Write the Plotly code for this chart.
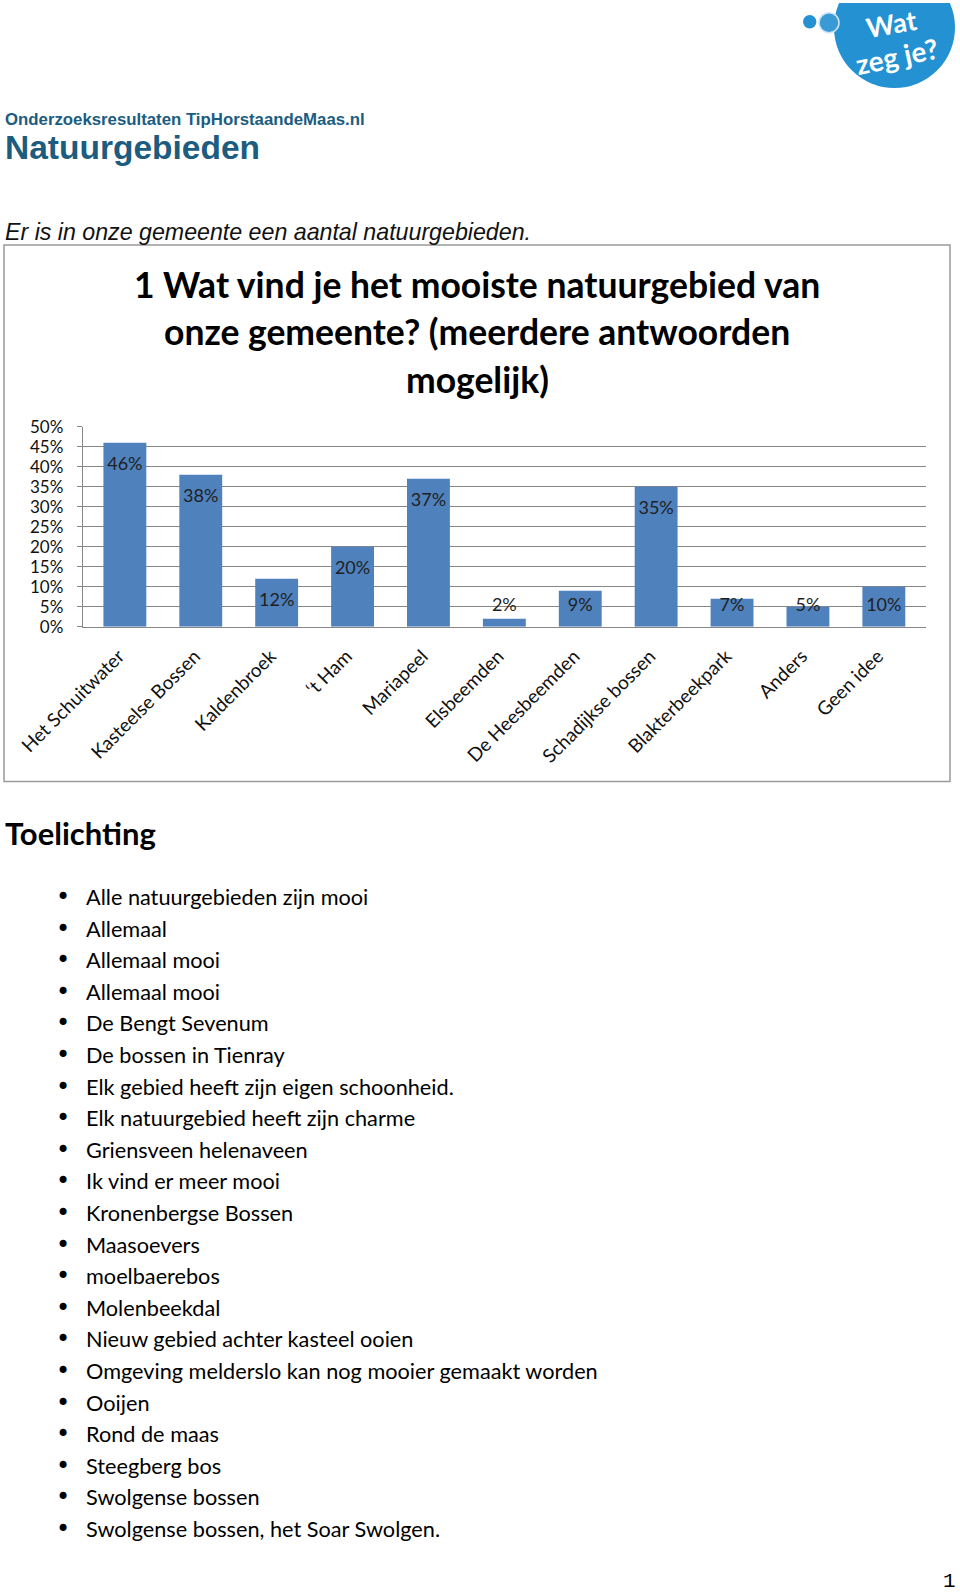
import plotly.graph_objects as go

# data
categories = ["Het Schuitwater", "Kasteelse Bossen", "Kaldenbroek", "‘t Ham", "Mariapeel",
              "Elsbeemden", "De Heesbeemden", "Schadijkse bossen", "Blakterbeekpark", "Anders", "Geen idee"]
values = [46, 38, 12, 20, 37, 2, 9, 35, 7, 5, 10]
y_ticks = [0, 5, 10, 15, 20, 25, 30, 35, 40, 45, 50]
y_ticktext = [f"{t}%" for t in y_ticks]
title_lines = ["1 Wat vind je het mooiste natuurgebied van",
               "onze gemeente? (meerdere antwoorden",
               "mogelijk)"]
comments = ["Alle natuurgebieden zijn mooi", "Allemaal", "Allemaal mooi", "Allemaal mooi",
            "De Bengt Sevenum", "De bossen in Tienray", "Elk gebied heeft zijn eigen schoonheid.",
            "Elk natuurgebied heeft zijn charme", "Griensveen helenaveen", "Ik vind er meer mooi",
            "Kronenbergse Bossen", "Maasoevers", "moelbaerebos", "Molenbeekdal",
            "Nieuw gebied achter kasteel ooien", "Omgeving melderslo kan nog mooier gemaakt worden",
            "Ooijen", "Rond de maas", "Steegberg bos", "Swolgense bossen",
            "Swolgense bossen, het Soar Swolgen."]

W, H = 960, 1596
def px(x):
    return x / W
def py(y):
    return 1 - y / H

CHART_FONT = "Lato"
HEAD = "#1b5c80"
BLUE = "#2391d2"

fig = go.Figure()
fig.add_trace(go.Bar(x=categories, y=values, marker_color="#4f81bd", width=0.565,
                     hoverinfo="skip"))
# data labels sit just under the bar top, never lower than the 5% line
label_y = [max(v - 5.8, 5.0) for v in values]
fig.add_trace(go.Scatter(x=categories, y=label_y, mode="text", text=[f"{v}%" for v in values],
                         textfont=dict(family=CHART_FONT, size=18, color="#1f1f1f"),
                         hoverinfo="skip"))

fig.update_layout(
    template="none",
    width=W, height=H, margin=dict(l=0, r=0, t=0, b=0, autoexpand=False),
    paper_bgcolor="white", plot_bgcolor="white", showlegend=False,
    xaxis=dict(domain=[px(82.7), px(926)], showline=True, linecolor="#868686", linewidth=1,
               tickangle=-45, tickfont=dict(family=CHART_FONT, size=19, color="#111"),
               ticks="", showgrid=False, automargin=False,
               ticklabelstandoff=10, ticklabelshift=-6),
    yaxis=dict(domain=[py(626.7), py(426.7)], range=[0, 50], tickmode="array",
               tickvals=y_ticks, ticktext=y_ticktext, showline=True, linecolor="#868686",
               linewidth=1, gridcolor="#868686", gridwidth=1, ticks="outside", ticklen=5,
               tickcolor="#868686", ticklabelstandoff=10, automargin=False,
               tickfont=dict(family=CHART_FONT, size=17, color="#111"), zeroline=False),
)

shapes = []
# chart frame
shapes.append(dict(type="rect", xref="paper", yref="paper", x0=px(4), x1=px(950),
                   y0=py(781.5), y1=py(245), line=dict(color="#9a9a9a", width=1.5)))
# logo
shapes.append(dict(type="circle", xref="paper", yref="paper", x0=px(834), x1=px(955),
                   y0=py(88), y1=py(-33), fillcolor=BLUE, line=dict(width=0)))
shapes.append(dict(type="rect", xref="paper", yref="paper", x0=px(820), x1=px(960),
                   y0=py(3), y1=py(0), fillcolor="white", line=dict(width=0)))
shapes.append(dict(type="circle", xref="paper", yref="paper", x0=px(803), x1=px(816.4),
                   y0=py(28.4), y1=py(15), fillcolor=BLUE, line=dict(width=0)))
shapes.append(dict(type="circle", xref="paper", yref="paper", x0=px(819), x1=px(839),
                   y0=py(32.7), y1=py(12.7), fillcolor="#3a9ad6",
                   line=dict(color="#cfe4f4", width=1.5)))

ann = []
def text(x, y, s, size, family, color="#000", xanchor="left", bold=False, italic=False, angle=0):
    if bold:
        s = f"<b>{s}</b>"
    if italic:
        s = f"<i>{s}</i>"
    ann.append(dict(x=px(x), y=py(y), xref="paper", yref="paper", text=s, showarrow=False,
                    xanchor=xanchor, yanchor="middle", textangle=angle,
                    font=dict(family=family, size=size, color=color)))

text(891, 23, "Wat", 27, "Lato", "white", "center", bold=True, angle=-10)
text(896, 56, "zeg je?", 28, "Lato", "white", "center", bold=True, angle=-12)

text(3, 119.5, "Onderzoeksresultaten TipHorstaandeMaas.nl", 16.8, "Liberation Sans", HEAD, bold=True)
text(3, 148, "Natuurgebieden", 33.5, "Liberation Sans", HEAD, bold=True)
text(3, 232, "Er is in onze gemeente een aantal natuurgebieden.", 23.2, "Liberation Sans", "#111", italic=True)

for i, line in enumerate(title_lines):
    text(477, 284 + i * 47.5, line, 35.5, CHART_FONT, "#000", "center", bold=True)

text(3, 833, "Toelichting", 31, CHART_FONT, "#000", bold=True)
for i, c in enumerate(comments):
    yy = 897 + i * 31.6
    text(63, yy, "•", 24, "DejaVu Sans", "#000", "center")
    text(84, yy, c, 21.7, CHART_FONT, "#000")

text(958, 1581, "1", 21, "Liberation Mono", "#000", "right")

fig.update_layout(shapes=shapes, annotations=ann)
fig.write_html("out.html", config={"displayModeBar": False},
               post_script="document.body.style.margin='0';")
